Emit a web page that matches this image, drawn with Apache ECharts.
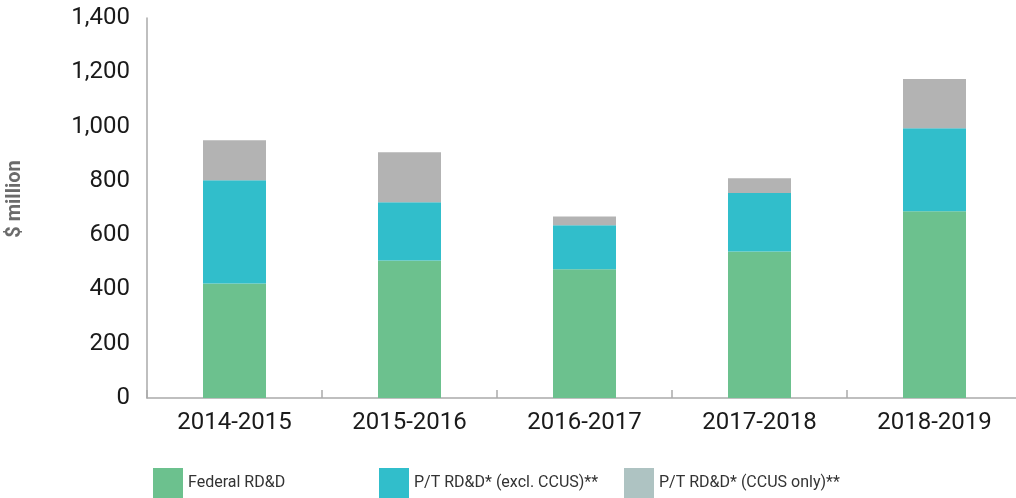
<!DOCTYPE html>
<html lang="en">
    <head>
        <meta charset="utf-8">
        <title>RD&amp;D spending</title>
        <style type="text/css">
            *{padding: 0;margin: 0;}
            body,html{background: #fff;}
            #chart{width: 1016px;height: 498px;}
        </style>
    </head>
    <body>
        <div id="chart"></div>
        <script src="https://cdn.jsdelivr.net/npm/echarts@6/dist/echarts.min.js"></script>
        <script type="text/javascript">
        // data ($ million)
        var years = ['2014-2015', '2015-2016', '2016-2017', '2017-2018', '2018-2019'];
        var federal = [422, 507, 474, 540, 688];
        var ptExcl = [380, 214, 162, 215, 306];
        var ptCcus = [148, 184, 33, 55, 181];
        var yTicks = [0, 1400, 200];

        var seriesNames = ['Federal RD&D', 'P/T RD&D* (excl. CCUS)**', 'P/T RD&D* (CCUS only)**'];
        var font = 'Roboto, "Liberation Sans Narrow", sans-serif';

        var myChart = echarts.init(document.getElementById('chart'));

        function legendAt(name, left, color) {
            return {
                left: left,
                top: 468,
                padding: 0,
                itemWidth: 30,
                itemHeight: 30,
                icon: 'rect',
                selectedMode: false,
                data: [{name: name, itemStyle: {color: color}}],
                textStyle: {fontFamily: font, fontSize: 16, color: '#333'}
            };
        }

        var option = {
            backgroundColor: '#fff',
            animation: false,
            grid: {left: 147, right: -6, top: 18, bottom: 100, outerBoundsMode: 'none', containLabel: false},
            legend: [
                legendAt(seriesNames[0], 153, '#6cc18e'),
                legendAt(seriesNames[1], 379, '#31becb'),
                legendAt(seriesNames[2], 624, '#aec3c2')
            ],
            xAxis: {
                type: 'category',
                data: years,
                axisLine: {lineStyle: {color: '#aaa', width: 1.5}},
                axisTick: {show: true, inside: true, length: 8, lineStyle: {color: '#aaa', width: 1.5}},
                axisLabel: {fontFamily: font, fontSize: 24, color: '#1a1a1a', margin: 13}
            },
            yAxis: {
                type: 'value',
                min: yTicks[0],
                max: yTicks[1],
                interval: yTicks[2],
                name: '$ million',
                nameLocation: 'middle',
                nameGap: 122,
                nameTextStyle: {fontFamily: font, fontSize: 20, fontWeight: 'bold', color: '#6b6b6b', padding: [0, 0, 0, 18]},
                axisLine: {show: true, lineStyle: {color: '#aaa', width: 1.5}},
                axisTick: {show: false},
                splitLine: {show: false},
                axisLabel: {
                    fontFamily: font, fontSize: 24, color: '#1a1a1a', margin: 17,
                    formatter: function (v) { return v.toLocaleString('en-US'); }
                }
            },
            series: [
                {name: seriesNames[0], type: 'bar', stack: 'all', barWidth: 63, data: federal, itemStyle: {color: '#6cc18e'}},
                {name: seriesNames[1], type: 'bar', stack: 'all', barWidth: 63, data: ptExcl, itemStyle: {color: '#31becb'}},
                {name: seriesNames[2], type: 'bar', stack: 'all', barWidth: 63, data: ptCcus, itemStyle: {color: '#b3b3b3'}}
            ]
        };
        myChart.setOption(option);
        </script>
    </body>
</html>
